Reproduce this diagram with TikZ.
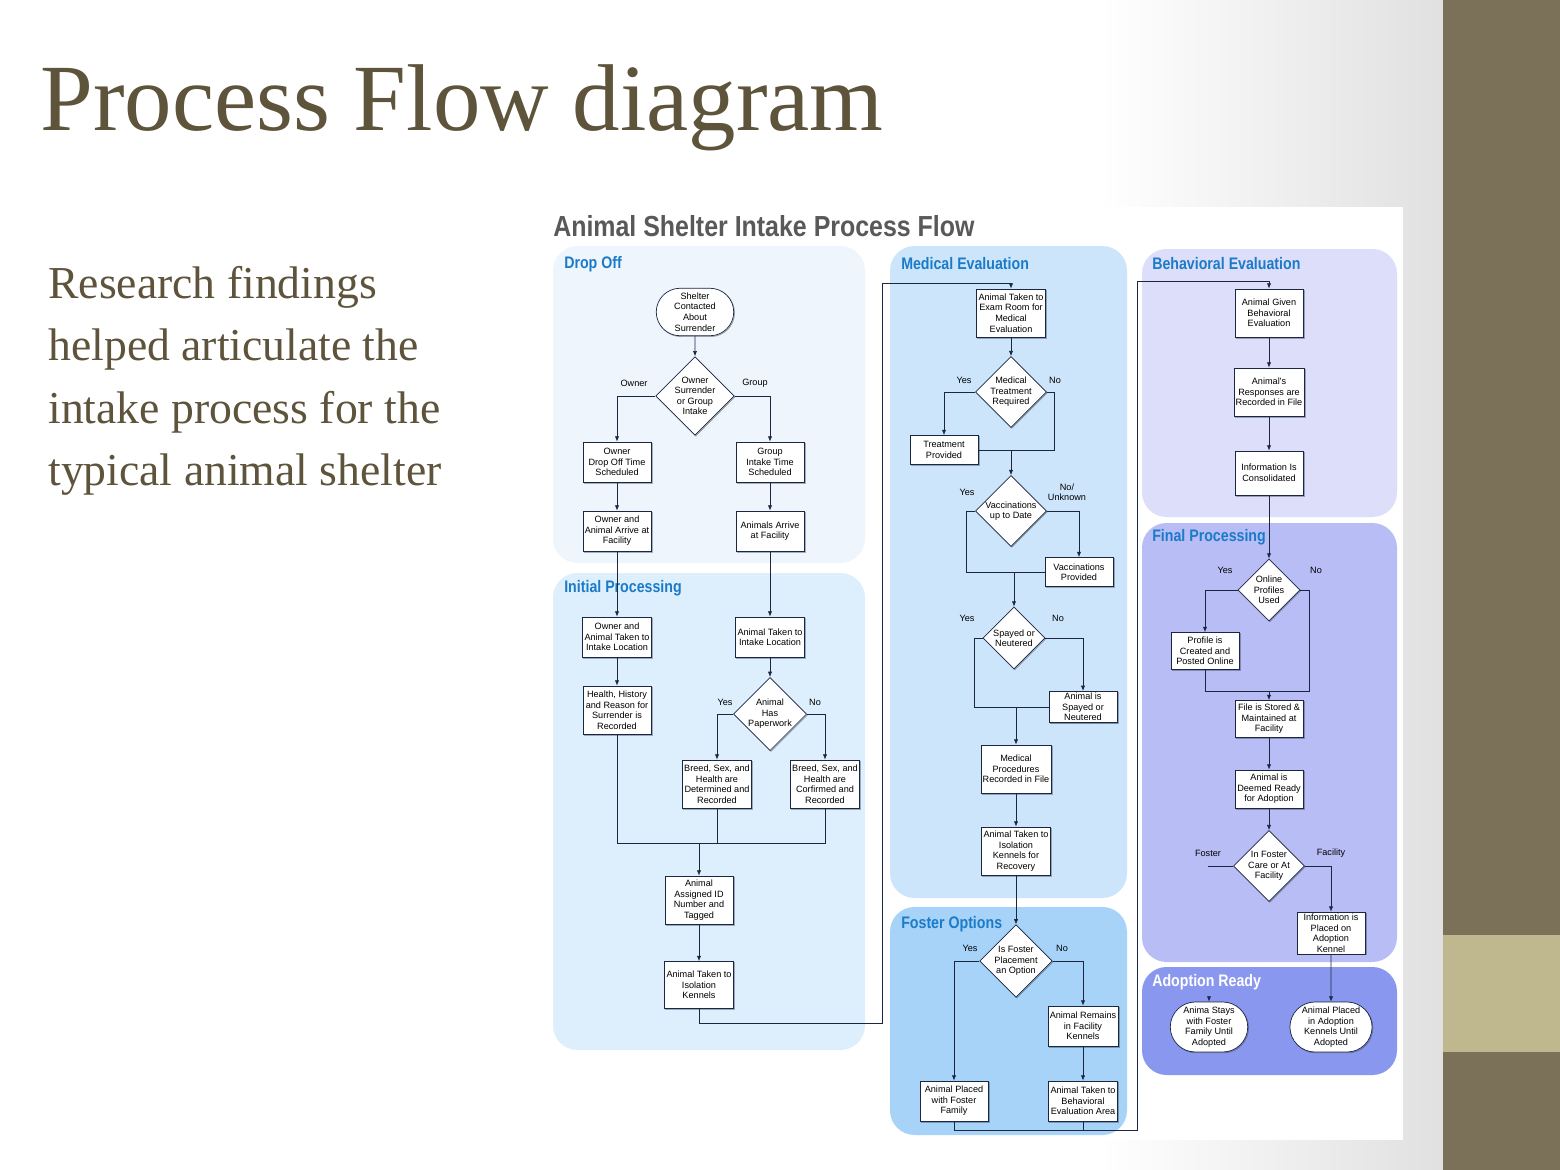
\documentclass[tikz,border=0pt]{standalone}
\usepackage{fontspec}
\setmainfont{Liberation Serif}
\newfontfamily\dsans{Liberation Sans}
\usetikzlibrary{shapes.geometric,shapes.misc,shadows,arrows.meta}
\definecolor{slidetxt}{HTML}{5E533B}
\definecolor{band}{HTML}{7B7058}
\definecolor{bandlt}{HTML}{BFB78E}
\definecolor{hdblue}{HTML}{1B7BC8}
\definecolor{pDrop}{HTML}{EEF5FD}
\definecolor{pInit}{HTML}{DDEEFC}
\definecolor{pMed}{HTML}{CDE5FA}
\definecolor{pFos}{HTML}{A6D3F7}
\definecolor{pBeh}{HTML}{DCDEFA}
\definecolor{pFin}{HTML}{B8BDF5}
\definecolor{pAdo}{HTML}{8A97EE}
\definecolor{wire}{HTML}{1B2741}
\begin{document}
\begin{tikzpicture}[x=0.02cm,y=-0.02cm, font=\dsans,
    box/.style = {draw, fill=white, thin, align=center, inner sep=1pt, minimum width=1.36cm, minimum height=0.8cm,
        font=\dsans\fontsize{5.2}{6}\selectfont, drop shadow={opacity=0.35,shadow xshift=0.5pt,shadow yshift=-0.5pt}},
    term/.style = {box, rounded rectangle, minimum width=1.62cm, minimum height=0.95cm},
    ask/.style = {box, diamond, aspect=1, minimum width=1.2cm, minimum height=1.2cm, inner sep=0pt},
    lbl/.style = {font=\dsans\fontsize{5.2}{6}\selectfont},
    panel/.style = {rounded corners=14pt},
    ptitle/.style = {anchor=west, text=hdblue, font=\dsans\bfseries\fontsize{9.5}{11}\selectfont, xscale=0.85},
    arr/.style = {-{Latex[length=3pt,width=2.4pt]}},
    every path/.style = {draw=wire, line width=0.4pt}]
    % slide
    \fill[white,draw=none] (0,0) rectangle (1560,1170);
    \shade[draw=none,left color=white,right color=black!12] (1100,0) rectangle (1443,1170);
    \fill[band,draw=none] (1443,0) rectangle (1560,1170);
    \fill[bandlt,draw=none] (1443,935) rectangle (1560,1052);
    \node[anchor=base west, text=slidetxt, font=\fontsize{54}{60}\selectfont, inner sep=0] (title) at (40,130) {Process Flow diagram};
    \node[anchor=north west, text=slidetxt, align=left, font=\fontsize{26}{35.5}\selectfont, inner sep=0] (intro) at (48,266)
        {Research findings\\helped articulate the\\intake process for the\\typical animal shelter};
    % diagram area
    \fill[white,draw=none] (548,207) rectangle (1403,1140);
    \node[anchor=west, text=black!65, font=\dsans\bfseries\fontsize{16.5}{18}\selectfont, xscale=0.86, inner sep=0] (dtitle) at (553,226) {Animal Shelter Intake Process Flow};
    \fill[pDrop,draw=none,panel] (553,246) rectangle (865,563);
    \fill[pInit,draw=none,panel] (553,573) rectangle (865,1050);
    \fill[pMed,draw=none,panel] (890,246) rectangle (1127,898);
    \fill[pFos,draw=none,panel] (890,907) rectangle (1127,1135);
    \fill[pBeh,draw=none,panel] (1142,249) rectangle (1397,517);
    \fill[pFin,draw=none,panel] (1142,523) rectangle (1397,962);
    \fill[pAdo,draw=none,panel] (1142,967) rectangle (1397,1075);
    \node[ptitle] (tDrop) at (559,264) {Drop Off};
    \node[ptitle] (tInit) at (559,588) {Initial Processing};
    \node[ptitle] (tMed) at (896,264) {Medical Evaluation};
    \node[ptitle] (tFos) at (896,924) {Foster Options};
    \node[ptitle] (tBeh) at (1147,264) {Behavioral Evaluation};
    \node[ptitle] (tFin) at (1147,537) {Final Processing};
    \node[ptitle,text=white] (tAdo) at (1147,982) {Adoption Ready};

    % drop off and initial processing
    \node[term] (contact) at (695,312) {Shelter\\Contacted\\About\\Surrender};
    \node[ask] (ownq) at (695,396) {Owner\\Surrender\\or Group\\Intake};
    \node[box] (ownsched) at (617,462) {Owner\\Drop Off Time\\Scheduled};
    \node[box] (grpsched) at (770,462) {Group\\Intake Time\\Scheduled};
    \node[box] (ownarr) at (617,531) {Owner and\\Animal Arrive at\\Facility};
    \node[box] (grparr) at (770,531) {Animals Arrive\\at Facility};
    \node[box] (ownloc) at (617,637) {Owner and\\Animal Taken to\\Intake Location};
    \node[box] (grploc) at (770,637) {Animal Taken to\\Intake Location};
    \node[box,minimum height=0.96cm] (history) at (617,710) {Health, History\\and Reason for\\Surrender is\\Recorded};
    \node[ask] (paperq) at (770,714) {Animal\\Has\\Paperwork};
    \node[box,minimum height=0.96cm] (bdeterm) at (717,784) {Breed, Sex, and\\Health are\\Determined and\\Recorded};
    \node[box,minimum height=0.96cm] (bconf) at (825,784) {Breed, Sex, and\\Health are\\Corfirmed and\\Recorded};
    \coordinate (jInit) at (699,843);
    \node[box,minimum height=0.96cm] (tagged) at (699,900) {Animal\\Assigned ID\\Number and\\Tagged};
    \node[box,minimum height=0.94cm] (isol) at (699,985) {Animal Taken to\\Isolation\\Kennels};
    \node[lbl] (lOwner) at (634,383) {Owner};
    \node[lbl] (lGroup) at (755,383) {Group};
    \node[lbl] (lYes1) at (725,702) {Yes};
    \node[lbl] (lNo1) at (815,702) {No};

    \draw[arr] (contact) -- (ownq);
    \draw[arr] (ownq.west) -| (ownsched.north);
    \draw[arr] (ownq.east) -| (grpsched.north);
    \draw[arr] (ownsched) -- (ownarr);
    \draw[arr] (grpsched) -- (grparr);
    \draw[arr] (ownarr) -- (ownloc);
    \draw[arr] (grparr) -- (grploc);
    \draw[arr] (ownloc) -- (history);
    \draw[arr] (grploc) -- (paperq);
    \draw[arr] (paperq.west) -| (bdeterm.north);
    \draw[arr] (paperq.east) -| (bconf.north);
    \draw (history.south) |- (bconf.south |- jInit) -- (bconf.south);
    \draw (bdeterm.south) -- (bdeterm.south |- jInit);
    \draw[arr] (jInit) -- (tagged);
    \draw[arr] (tagged) -- (isol);

    % medical evaluation
    \node[box,minimum height=0.96cm] (exam) at (1011,313) {Animal Taken to\\Exam Room for\\Medical\\Evaluation};
    \draw[arr] (isol.south) -- ++(0,14) -| (882,283) -| (exam.north);
    \node[ask] (medq) at (1011,392) {Medical\\Treatment\\Required};
    \node[box,minimum height=0.58cm] (treat) at (944,450) {Treatment\\Provided};
    \coordinate (jMed) at (1011,450);
    \node[ask,minimum width=1.42cm,minimum height=1.42cm] (vacq) at (1011,511) {Vaccinations\\up to Date};
    \node[box,minimum height=0.58cm] (vacprov) at (1079,572) {Vaccinations\\Provided};
    \coordinate (jVac) at (1014,572);
    \node[ask,minimum width=1.24cm,minimum height=1.24cm] (spayq) at (1014,638) {Spayed or\\Neutered};
    \node[box,minimum height=0.62cm] (spayed) at (1083,707) {Animal is\\Spayed or\\Neutered};
    \coordinate (jSpay) at (1016,707);
    \node[box,minimum height=0.96cm] (medrec) at (1016,769) {Medical\\Procedures\\Recorded in File};
    \node[box,minimum height=0.96cm] (recov) at (1016,851) {Animal Taken to\\Isolation\\Kennels for\\Recovery};
    \node[lbl] (lYes2) at (964,380) {Yes};
    \node[lbl] (lNo2) at (1055,380) {No};
    \node[lbl] (lYes3) at (967,492) {Yes};
    \node[lbl,align=center] (lNo3) at (1067,492) {No/\\Unknown};
    \node[lbl] (lYes4) at (967,618) {Yes};
    \node[lbl] (lNo4) at (1058,618) {No};

    \draw[arr] (exam) -- (medq);
    \draw[arr] (medq.west) -| (treat.north);
    \draw (medq.east) -- ++(8,0) |- (treat.east);
    \draw[arr] (jMed) -- (vacq);
    \draw (vacq.west) -| (966,572) -- (vacprov.west);
    \draw[arr] (vacq.east) -| (vacprov.north);
    \draw[arr] (jVac) -- (spayq);
    \draw (spayq.west) -| (974,707) -- (spayed.west);
    \draw[arr] (spayq.east) -| (spayed.north);
    \draw[arr] (jSpay) -- (medrec);
    \draw[arr] (medrec) -- (recov);

    % foster options
    \node[ask,minimum width=1.24cm,minimum height=1.24cm] (fosq) at (1016,961) {Is Foster\\Placement\\an Option};
    \node[box] (fosfam) at (954,1101) {Animal Placed\\with Foster\\Family};
    \node[box] (remain) at (1083,1026) {Animal Remains\\in Facility\\Kennels};
    \node[box] (behmove) at (1083,1101) {Animal Taken to\\Behavioral\\Evaluation Area};
    \node[lbl] (lYes5) at (970,948) {Yes};
    \node[lbl] (lNo5) at (1062,948) {No};
    \draw[arr] (recov) -- (fosq);
    \draw[arr] (fosq.west) -| (fosfam.north);
    \draw[arr] (fosq.east) -| (remain.north);
    \draw[arr] (remain) -- (behmove);
    \draw (behmove.south) -- (behmove.south |- 0,1130);

    % behavioral evaluation
    \node[box,minimum height=0.96cm] (givebe) at (1269,313) {Animal Given\\Behavioral\\Evaluation};
    \draw[arr] (fosfam.south) |- (1137,1130) -- (1137,281) -| (givebe.north);
    \node[box,minimum height=0.96cm] (resp) at (1269,392) {Animal's\\Responses are\\Recorded in File};
    \node[box,minimum height=0.88cm] (consol) at (1269,473) {Information Is\\Consolidated};
    \draw[arr] (givebe) -- (resp);
    \draw[arr] (resp) -- (consol);

    % final processing
    \node[ask,minimum width=1.24cm,minimum height=1.24cm] (onlq) at (1269,590) {Online\\Profiles\\Used};
    \node[box,minimum height=0.74cm] (profile) at (1205,651) {Profile is\\Created and\\Posted Online};
    \coordinate (jFin) at (1269,691);
    \node[box,minimum height=0.74cm] (stored) at (1269,719) {File is Stored \&\\Maintained at\\Facility};
    \node[box,minimum height=0.76cm] (ready) at (1269,789) {Animal is\\Deemed Ready\\for Adoption};
    \node[ask,minimum width=1.24cm,minimum height=1.24cm] (careq) at (1269,866) {In Foster\\Care or At\\Facility};
    \coordinate (fosEnd) at (1208,866);
    \node[box,minimum height=0.8cm] (info) at (1331,933) {Information is\\Placed on\\Adoption\\Kennel};
    \node[lbl] (lYes6) at (1225,570) {Yes};
    \node[lbl] (lNo6) at (1316,570) {No};
    \node[lbl] (lFoster) at (1208,853) {Foster};
    \node[lbl] (lFacil) at (1331,853) {Facility};
    \draw[arr] (consol) -- (onlq);
    \draw[arr] (onlq.west) -| (profile.north);
    \draw (onlq.east) -| (1309,691) -| (profile.south);
    \draw[arr] (jFin) -- (stored);
    \draw[arr] (stored) -- (ready);
    \draw[arr] (ready) -- (careq);
    \draw (careq.west) -- (fosEnd);
    \draw[arr] (careq.east) -| (info.north);

    % adoption ready
    \node[term,minimum width=1.62cm,minimum height=1.0cm] (stays) at (1209,1027) {Anima Stays\\with Foster\\Family Until\\Adopted};
    \node[term,minimum width=1.62cm,minimum height=1.0cm] (kennel) at (1331,1027) {Animal Placed\\in Adoption\\Kennels Until\\Adopted};
    \coordinate (staysIn) at (1209,997);
    \draw[arr] (staysIn) -- (stays);
    \draw[arr] (info) -- (kennel);
\end{tikzpicture}
\end{document}
